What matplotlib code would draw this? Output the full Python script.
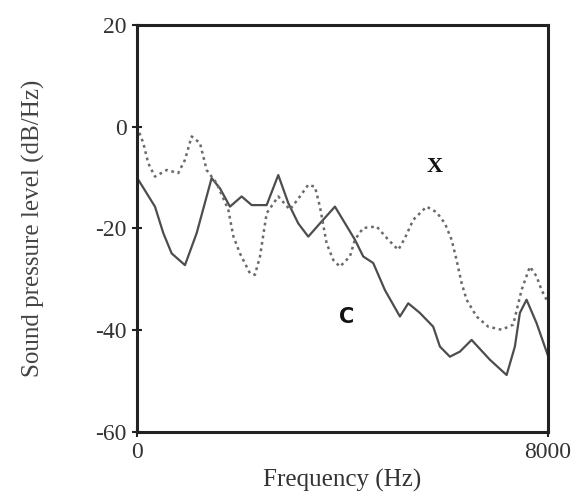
import matplotlib
matplotlib.use("Agg")
import matplotlib.pyplot as plt

# Curve C (solid)
c_freq = [0, 350, 512, 675, 934, 1162, 1453, 1615, 1810, 2037, 2232, 2524, 2750, 2945,
          3139, 3334, 3561, 3853, 4242, 4404, 4599, 4826, 5118, 5280, 5507, 5766, 5896,
          6091, 6286, 6513, 6870, 7195, 7356, 7453, 7583, 7778, 8000]
c_spl = [-10, -15.7, -20.9, -24.9, -27.2, -20.9, -10.1, -12.1, -15.7, -13.7, -15.4, -15.4,
         -9.5, -15, -19, -21.6, -19, -15.7, -22.2, -25.5, -26.8, -32.1, -37.3, -34.7, -36.6,
         -39.3, -43.2, -45.2, -44.2, -41.9, -45.8, -48.8, -43.2, -36.6, -34.0, -38.6, -45]

# Curve X (dotted)
x_freq = [0, 123, 220, 350, 578, 804, 934, 1064, 1226, 1356, 1550, 1777, 1875, 2004, 2199,
          2296, 2394, 2524, 2750, 2977, 3172, 3334, 3464, 3561, 3691, 3821, 3950, 4145,
          4242, 4404, 4664, 4891, 5086, 5215, 5377, 5637, 5832, 5994, 6124, 6221, 6318,
          6416, 6610, 6837, 7097, 7323, 7486, 7648, 7778, 7875, 8000]
x_spl = [0, -3.2, -7.2, -9.8, -8.5, -9.1, -6.5, -1.9, -3.2, -8.5, -11.1, -16.3, -21.5, -24.9,
         -28.8, -29.1, -25.5, -17, -13.7, -16.3, -13.7, -11.4, -11.8, -15.7, -22.9, -26.2,
         -27.5, -25.5, -22.2, -19.9, -19.6, -22.2, -24.2, -21.9, -18.3, -15.7, -16.8, -19,
         -22.2, -26.2, -30.7, -34.0, -37.3, -39.3, -39.9, -38.9, -32.1, -27.5, -29.4, -32.1,
         -34.5]

x_ticks = [0, 8000]
y_ticks = [-60, -40, -20, 0, 20]

serif = ["Liberation Serif", "DejaVu Serif"]

fig = plt.figure(figsize=(5.79, 4.97), dpi=100)
ax = fig.add_axes([0.2366, 0.1308, 0.7098, 0.8189])

ax.plot(c_freq, c_spl, color="#4d4d4d", lw=1.6, solid_joinstyle="round")
ax.plot(x_freq, x_spl, color="#6a6a6a", lw=1.8, linestyle=(0, (1.1, 1.5)))

ax.text(5799, -7.9, "X", family=serif, fontweight="bold", fontsize=16,
        ha="center", va="center", color="#111111")
ax.text(4087, -37.4, "C", family=["DejaVu Sans"], fontweight="bold", fontsize=15,
        ha="center", va="center", color="#111111")

ax.set_xlim(0, 8000)
ax.set_ylim(-60, 20)
ax.set_xticks(x_ticks)
ax.set_xticklabels([str(v) for v in x_ticks])
ax.set_yticks(y_ticks)
ax.set_yticklabels([str(v) for v in y_ticks])

for s in ax.spines.values():
    s.set_linewidth(2.2)
    s.set_color("#222222")

ax.tick_params(axis="both", direction="inout", length=7, width=1.5, color="#222222",
               labelsize=17, pad=4)
for lab in ax.get_xticklabels() + ax.get_yticklabels():
    lab.set_family(serif)
    lab.set_color("#333333")

ax.set_xlabel("Frequency (Hz)", family=serif, fontsize=18, color="#333333", labelpad=4)
ax.set_ylabel("Sound pressure level (dB/Hz)", family=serif, fontsize=18,
              color="#444444", labelpad=36)

fig.savefig("out.png", dpi=100)
